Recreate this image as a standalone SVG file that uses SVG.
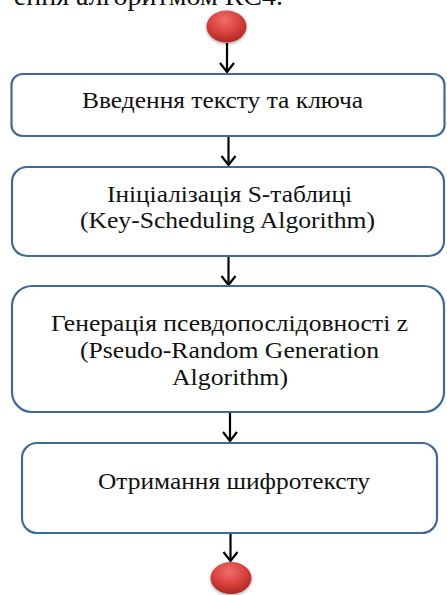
<svg xmlns="http://www.w3.org/2000/svg" width="447" height="595" viewBox="0 0 447 595">
<style>
.box{fill:#fff;stroke:#41699A;stroke-width:2.2}
.t{font-family:"Liberation Serif","DejaVu Serif",serif;font-size:24px;fill:#111;text-anchor:middle}
.c{stroke:#000;stroke-width:2.2;fill:none}
</style>
<defs>
<radialGradient id="rg" cx="0.45" cy="0.3" r="0.75">
<stop offset="0" stop-color="#F0706A"/>
<stop offset="0.55" stop-color="#D6403A"/>
<stop offset="1" stop-color="#A82420"/>
</radialGradient>
<filter id="sh" x="-30%" y="-30%" width="160%" height="170%">
<feDropShadow dx="0" dy="1.5" stdDeviation="1.5" flood-color="#000" flood-opacity="0.35"/>
</filter>
<marker id="ah" viewBox="-10 -10 20 20" markerWidth="20" markerHeight="20" markerUnits="userSpaceOnUse" orient="auto" refX="0" refY="0">
<path d="M-9,-7 L0,0 L-9,7" fill="none" stroke="#000" stroke-width="2.2"/>
</marker>
</defs>
<text x="283" y="5" font-family="Liberation Serif,serif" font-size="28" fill="#111" text-anchor="end">ення алгоритмом RC4.</text>
<g id="connectors">
<line class="c" x1="227" y1="43" x2="227" y2="72" marker-end="url(#ah)"/>
<line class="c" x1="228.5" y1="136" x2="228.5" y2="165" marker-end="url(#ah)"/>
<line class="c" x1="228.5" y1="256" x2="228.5" y2="285" marker-end="url(#ah)"/>
<line class="c" x1="230" y1="412" x2="230" y2="441" marker-end="url(#ah)"/>
<line class="c" x1="230.5" y1="533" x2="230.5" y2="561" marker-end="url(#ah)"/>
</g>
<g id="start"><ellipse cx="226.5" cy="26.5" rx="20" ry="16" fill="url(#rg)" filter="url(#sh)"/></g>
<g id="n1"><rect class="box" x="11.5" y="74" width="433" height="62" rx="11"/>
<text class="t" x="222.5" y="108" textLength="281" lengthAdjust="spacingAndGlyphs">Введення тексту та ключа</text></g>
<g id="n2"><rect class="box" x="12" y="167" width="432" height="89" rx="15"/>
<text class="t" x="229.5" y="202" textLength="245" lengthAdjust="spacingAndGlyphs">Ініціалізація S-таблиці</text>
<text class="t" x="227.5" y="228" textLength="295" lengthAdjust="spacingAndGlyphs">(Key-Scheduling Algorithm)</text></g>
<g id="n3"><rect class="box" x="12" y="286" width="432" height="126" rx="20"/>
<text class="t" x="229.5" y="331" textLength="357" lengthAdjust="spacingAndGlyphs">Генерація псевдопослідовності z</text>
<text class="t" x="229.5" y="358" textLength="299" lengthAdjust="spacingAndGlyphs">(Pseudo-Random Generation</text>
<text class="t" x="230" y="385" textLength="116" lengthAdjust="spacingAndGlyphs">Algorithm)</text></g>
<g id="n4"><rect class="box" x="22" y="443" width="415" height="90" rx="15"/>
<text class="t" x="234" y="489" textLength="272" lengthAdjust="spacingAndGlyphs">Отримання шифротексту</text></g>
<g id="end"><ellipse cx="231" cy="578" rx="20.5" ry="16" fill="url(#rg)" filter="url(#sh)"/></g>
</svg>
